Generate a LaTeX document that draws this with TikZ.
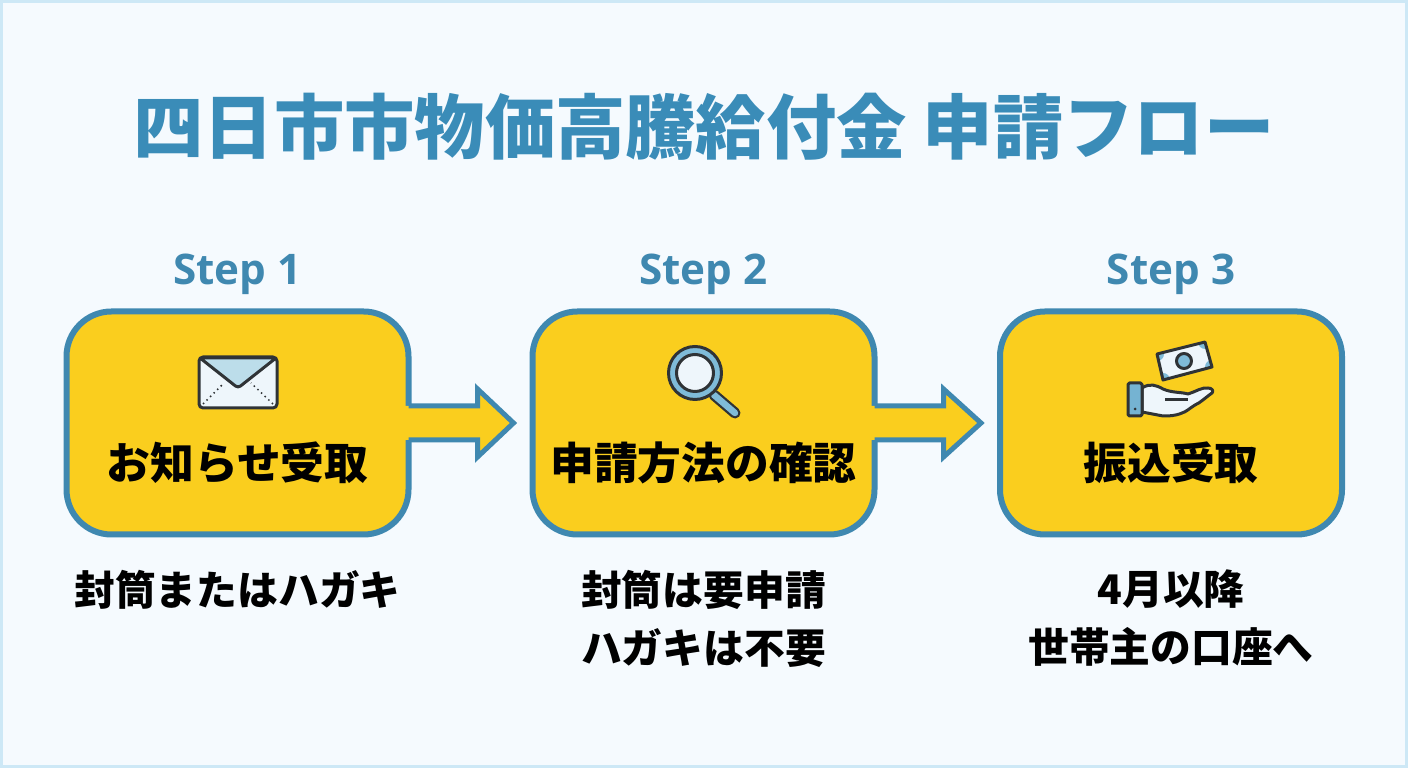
\documentclass[tikz,border=0pt]{standalone}
\usepackage{fontspec}
\setmainfont{Noto Sans CJK JP}
\newfontfamily\stepfont{Open Sans}
\usetikzlibrary{positioning, calc}
\definecolor{pagebg}{HTML}{F5FAFE}
\definecolor{pageborder}{HTML}{CDE8F6}
\definecolor{flowblue}{HTML}{3F88B0}
\definecolor{titleblue}{HTML}{3A8CB8}
\definecolor{boxyellow}{HTML}{FACE1E}
\definecolor{iconline}{HTML}{2F3336}
\definecolor{iconblue}{HTML}{7FBBD8}
\definecolor{iconpale}{HTML}{EEF6FB}
\definecolor{iconflap}{HTML}{BCDDEA}

\begin{document}
\begin{tikzpicture}[
  titletext/.style={font=\bfseries\fontsize{20}{24}\selectfont, text=titleblue, inner sep=0pt},
  steptext/.style={font=\stepfont\bfseries\fontsize{12}{14}\selectfont, text=flowblue, inner sep=0pt},
  flowbox/.style={rectangle, draw=flowblue, fill=boxyellow, line width=0.06cm, rounded corners=0.45cm, minimum width=3.42cm, minimum height=2.23cm, outer sep=0pt},
  boxtext/.style={font=\bfseries\fontsize{12.45}{14}\selectfont, text=black, inner sep=0pt},
  notetext/.style={font=\bfseries\fontsize{11.6}{16.5}\selectfont, text=black, align=center, inner sep=0pt, anchor=north},
  arrowfill/.style={fill=boxyellow},
  arrowline/.style={draw=flowblue, line width=0.05cm, miter limit=10},
  icon/.style={draw=iconline, line width=0.03cm, line join=round}
]
  % Page
  \fill[pagebg] (0,0) rectangle (14.08,7.68);
  \draw[pageborder, line width=0.03cm] (0.015,0.015) rectangle (14.065,7.665);
  \useasboundingbox (0,0) rectangle (14.08,7.68);

  % Title
  \node[titletext] (title) at (7.04, 6.41) {四日市市物価高騰給付金 申請フロー};

  % Boxes
  \node[flowbox] (box1) at (2.375, 3.45) {};
  \node[flowbox] (box2) at (7.035, 3.45) {};
  \node[flowbox] (box3) at (11.71, 3.45) {};

  % Step labels
  \node[steptext] (step1) at (2.375, 4.94) {Step 1};
  \node[steptext] (step2) at (7.035, 4.94) {Step 2};
  \node[steptext] (step3) at (11.71, 4.94) {Step 3};

  % Box labels
  \node[boxtext] (label1) at (2.375, 3.05) {お知らせ受取};
  \node[boxtext] (label2) at (7.035, 3.05) {申請方法の確認};
  \node[boxtext] (label3) at (11.71, 3.05) {振込受取};

  % Notes
  \node[notetext, below=0.35 of box1] (note1) {封筒またはハガキ};
  \node[notetext, below=0.35 of box2] (note2) {封筒は要申請\\ハガキは不要};
  \node[notetext, below=0.35 of box3] (note3) {4月以降\\世帯主の口座へ};

  % Arrows
  \fill[arrowfill] ($(box1.east)+(-0.04,0.17)$) -- ($(box1.east)+(0.69,0.17)$) -- ($(box1.east)+(0.69,0.34)$) -- ($(box2.west)+(-0.19,0)$) -- ($(box1.east)+(0.69,-0.34)$) -- ($(box1.east)+(0.69,-0.17)$) -- ($(box1.east)+(-0.04,-0.17)$) -- cycle;
  \draw[arrowline] ($(box1.east)+(0,0.17)$) -- ++(0.69,0) -- ++(0,0.17) -- ($(box2.west)+(-0.19,0)$) -- ($(box1.east)+(0.69,-0.34)$) -- ++(0,0.17) -- ($(box1.east)+(0,-0.17)$);
  \fill[arrowfill] ($(box2.east)+(-0.04,0.17)$) -- ($(box2.east)+(0.69,0.17)$) -- ($(box2.east)+(0.69,0.34)$) -- ($(box3.west)+(-0.19,0)$) -- ($(box2.east)+(0.69,-0.34)$) -- ($(box2.east)+(0.69,-0.17)$) -- ($(box2.east)+(-0.04,-0.17)$) -- cycle;
  \draw[arrowline] ($(box2.east)+(0,0.17)$) -- ++(0.69,0) -- ++(0,0.17) -- ($(box3.west)+(-0.19,0)$) -- ($(box2.east)+(0.69,-0.34)$) -- ++(0,0.17) -- ($(box2.east)+(0,-0.17)$);

  % Envelope icon
  \draw[icon, fill=iconpale, rounded corners=0.04cm] (1.99,3.60) rectangle (2.77,4.11);
  \draw[icon, fill=iconflap, rounded corners=0.03cm] (2.00,4.10) -- (2.38,3.80) -- (2.76,4.10) -- cycle;
  \draw[iconline, line width=0.015cm, densely dotted] (2.03,3.64) -- (2.24,3.85);
  \draw[iconline, line width=0.015cm, densely dotted] (2.73,3.64) -- (2.51,3.85);

  % Magnifier icon
  \draw[iconline, line width=0.11cm, line cap=round] (7.14,3.73) -- (7.35,3.55);
  \draw[iconblue, line width=0.065cm, line cap=round] (7.14,3.73) -- (7.35,3.55);
  \draw[icon, fill=iconblue] (6.95,3.95) circle (0.265);
  \draw[icon, fill=iconpale] (6.95,3.95) circle (0.185);

  % Money icon
  \begin{scope}
    \clip (11.57,4.14) -- (12.05,4.26) -- (12.12,4.01) -- (11.63,3.88) -- cycle;
    \fill[iconpale] (11.5,3.8) rectangle (12.2,4.3);
    \fill[iconblue] (11.57,4.14) circle (0.07);
    \fill[iconblue] (12.05,4.26) circle (0.07);
    \fill[iconblue] (12.12,4.01) circle (0.07);
    \fill[iconblue] (11.63,3.88) circle (0.07);
  \end{scope}
  \draw[icon] (11.57,4.14) -- (12.05,4.26) -- (12.12,4.01) -- (11.63,3.88) -- cycle;
  \draw[icon, fill=iconblue] (11.84,4.07) circle (0.075);

  % Hand icon
  \draw[icon, fill=iconpale] (11.42,3.80) .. controls (11.50,3.85) and (11.56,3.83) .. (11.63,3.79)
    .. controls (11.72,3.75) and (11.82,3.76) .. (11.88,3.74)
    .. controls (11.95,3.76) and (12.02,3.81) .. (12.08,3.80)
    .. controls (12.12,3.80) and (12.14,3.77) .. (12.12,3.75)
    .. controls (12.05,3.70) and (12.00,3.65) .. (11.95,3.63)
    .. controls (11.90,3.60) and (11.86,3.56) .. (11.82,3.55)
    .. controls (11.75,3.52) and (11.69,3.52) .. (11.63,3.52)
    -- (11.42,3.56) -- cycle;
  \draw[icon] (11.65,3.68) -- (11.88,3.68);
  \draw[icon, fill=iconblue!85!flowblue, rounded corners=0.015cm] (11.28,3.52) rectangle (11.42,3.85);
  \fill[iconline] (11.35,3.59) circle (0.015);
\end{tikzpicture}
\end{document}
